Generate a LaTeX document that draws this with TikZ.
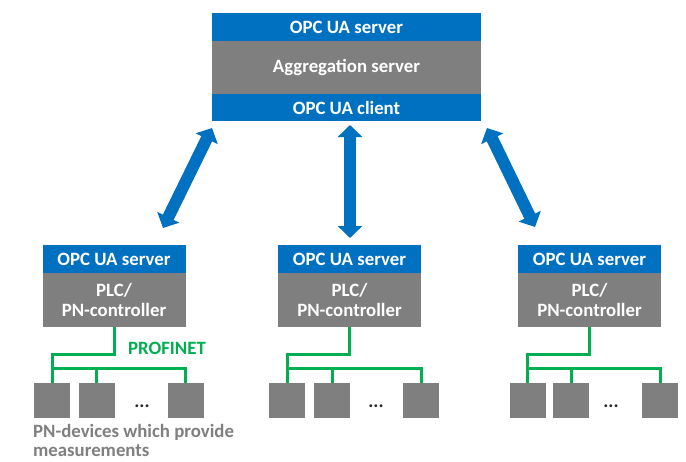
\documentclass[tikz,border=0pt]{standalone}
\usepackage{fontspec}
\setmainfont{Carlito}
\usetikzlibrary{arrows.meta}
\definecolor{uablue}{HTML}{0070C0}
\definecolor{boxgray}{HTML}{7F7F7F}
\definecolor{pngreen}{HTML}{00B050}
\begin{document}
\begin{tikzpicture}[x=1pt,y=-1pt,
  txt/.style={font=\fontsize{18.8}{20}\selectfont\bfseries, text=white, inner sep=0pt, align=center},
  bluebar/.style={txt, fill=uablue, minimum width=#1, minimum height=27.5pt},
  graybox/.style={txt, fill=boxgray, minimum width=#1},
  device/.style={fill=boxgray, minimum width=36pt, minimum height=35pt, inner sep=0pt},
  dots/.style={font=\fontsize{19}{19}\selectfont\bfseries, text=black!85, inner sep=0pt},
  bus/.style={draw=pngreen, line width=3pt},
  biarrow/.style={draw=uablue, line width=12pt,
    {Triangle[width=24pt,length=12pt]}-{Triangle[width=24pt,length=12pt]}}]
\useasboundingbox (0,0) rectangle (686,461);

% aggregation server
\node[bluebar=269pt] (topsrv) at (346.5,27) {OPC UA server};
\node[graybox=269pt, minimum height=53pt] (agg) at (346.5,67.5) {Aggregation server};
\node[bluebar=269pt] (topcli) at (346.5,107.5) {OPC UA client};

% three PLC stations
\foreach \n/\cx in {L/114, M/349.5, R/589.5}{
  \node[bluebar=143pt] (srv\n) at (\cx,259) {OPC UA server};
  \node[graybox=143pt, minimum height=54pt] (plc\n) at (\cx,300) {PLC/\\[0pt]PN-controller};
}

% field devices
\foreach \n/\a/\b/\c/\d in {L/52/96.5/185.5/142, M/287/332/421/376, R/527.5/571/660/611}{
  \node[device] (d\n1) at (\a,400.5) {};
  \node[device] (d\n2) at (\b,400.5) {};
  \node[device] (d\n3) at (\c,400.5) {};
  \node[dots, anchor=base] (dots\n) at (\d,407) {...};
}

% PROFINET wiring
\foreach \n in {L,M,R}{
  \draw[bus] (plc\n.south) -- ++(0,27) -| (d\n1.north);
  \draw[bus] (d\n1.north |- 0,368) -| (d\n3.north);
  \draw[bus] (d\n2.north |- 0,368) -- (d\n2.north);
}
\node[font=\fontsize{18.8}{20}\selectfont\bfseries, text=pngreen, inner sep=0pt, anchor=base] (pn) at (167,354) {PROFINET};

\node[font=\fontsize{18.8}{19.5}\selectfont\bfseries, text=boxgray, inner sep=0pt, align=left, anchor=north west] (lbl) at (33,424) {PN-devices which provide\\measurements};

% OPC UA links
\coordinate (aL1) at (212,128);
\coordinate (aL2) at (163,228);
\coordinate (aM1) at (350,125);
\coordinate (aM2) at (350,238);
\coordinate (aR1) at (487,128);
\coordinate (aR2) at (535,227);
\draw[biarrow] (aL1) -- (aL2);
\draw[biarrow] (aM1) -- (aM2);
\draw[biarrow] (aR1) -- (aR2);
\end{tikzpicture}
\end{document}
